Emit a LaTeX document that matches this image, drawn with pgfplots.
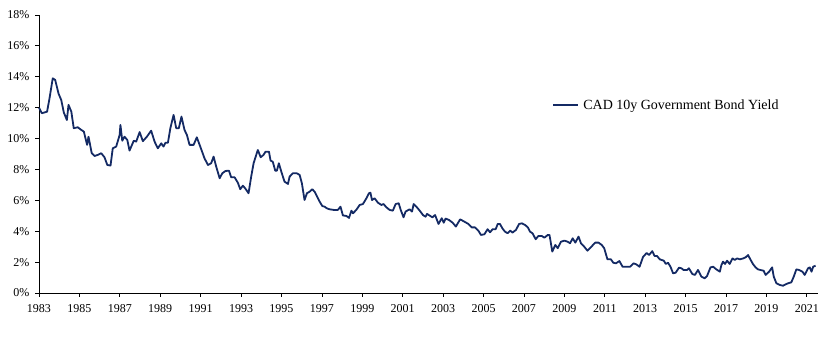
\documentclass[border=0pt]{standalone}
\usepackage{pgfplots}
\pgfplotsset{compat=1.18}
\usepackage{fontspec}
\setmainfont{Liberation Serif}
\definecolor{navy}{RGB}{20,42,100}
\begin{document}
\begin{tikzpicture}[x=1pt,y=1pt]
\useasboundingbox (-39,-62) rectangle (792,293);
\begin{axis}[
  at={(0,0)}, anchor=south west,
  scale only axis, width=779pt, height=278pt,
  xmin=1983, xmax=2021.55, ymin=0, ymax=18,
  axis lines*=left,
  axis line style={black, line width=0.8pt},
  tick style={black, line width=0.8pt},
  tick align=outside, major tick length=4pt,
  xtick={1983,1985,...,2021},
  xticklabels={1983,1985,1987,1989,1991,1993,1995,1997,1999,2001,2003,2005,2007,2009,2011,2013,2015,2017,2019,2021},
  ytick={0,2,...,18},
  yticklabels={0\%,2\%,4\%,6\%,8\%,10\%,12\%,14\%,16\%,18\%},
  tick label style={font=\fontsize{12}{14}\selectfont},
  xticklabel style={yshift=-4pt},
  yticklabel style={xshift=-2pt},
  legend style={draw=none, fill=none, anchor=west,
    at={(513pt,188pt)}, font=\fontsize{14}{16}\selectfont, inner sep=0pt},
  legend image code/.code={\draw[#1] (0pt,0pt) -- (25pt,0pt);},
  clip=false,
]
\addplot[navy, line width=1.8pt, line join=round] coordinates {
(1983.00,12.0)(1983.14,11.64)(1983.40,11.74)(1983.52,12.6)(1983.68,13.9)(1983.80,13.8)(1983.97,12.9)
(1984.10,12.5)(1984.23,11.68)(1984.38,11.2)(1984.46,12.18)(1984.60,11.74)(1984.72,10.67)(1984.92,10.73)
(1985.09,10.56)(1985.22,10.45)(1985.38,9.59)(1985.45,10.12)(1985.61,9.05)(1985.75,8.87)(1985.91,8.94)
(1986.08,9.05)(1986.24,8.79)(1986.38,8.29)(1986.54,8.25)(1986.65,9.37)(1986.82,9.48)(1986.99,10.23)
(1987.03,10.88)(1987.12,9.86)(1987.23,10.12)(1987.37,9.91)(1987.48,9.22)(1987.69,9.86)(1987.81,9.80)(1987.98,10.42)
(1988.14,9.83)(1988.34,10.12)(1988.55,10.51)(1988.72,9.80)(1988.88,9.37)
(1989.05,9.69)(1989.16,9.48)(1989.26,9.73)(1989.38,9.73)(1989.50,10.67)(1989.66,11.53)(1989.79,10.67)(1989.92,10.67)
(1990.05,11.42)(1990.20,10.56)(1990.32,10.23)(1990.45,9.59)(1990.65,9.59)(1990.81,10.08)(1990.98,9.48)
(1991.19,8.72)(1991.36,8.29)(1991.52,8.40)(1991.64,8.83)(1991.77,8.18)(1991.94,7.43)
(1992.07,7.75)(1992.23,7.90)(1992.40,7.92)(1992.51,7.49)(1992.68,7.49)(1992.84,7.14)(1992.96,6.72)
(1993.09,6.95)(1993.20,6.78)(1993.26,6.67)(1993.37,6.46)(1993.50,7.53)(1993.62,8.40)(1993.75,8.94)(1993.83,9.26)(1993.97,8.79)
(1994.11,8.94)(1994.21,9.15)(1994.38,9.15)(1994.46,8.57)(1994.57,8.50)(1994.69,7.92)(1994.77,7.92)(1994.87,8.40)(1994.99,7.86)
(1995.15,7.21)(1995.32,7.06)(1995.40,7.53)(1995.56,7.75)(1995.76,7.75)(1995.90,7.64)
(1996.01,7.10)(1996.14,6.02)(1996.26,6.46)(1996.39,6.56)(1996.52,6.72)(1996.64,6.56)(1996.75,6.28)(1996.89,5.91)
(1997.02,5.63)(1997.13,5.59)(1997.25,5.48)(1997.38,5.42)(1997.58,5.38)(1997.79,5.38)(1997.92,5.59)
(1998.04,5.02)(1998.21,4.99)(1998.34,4.86)(1998.46,5.33)(1998.54,5.16)(1998.70,5.38)(1998.87,5.70)
(1999.03,5.76)(1999.20,6.13)(1999.33,6.46)(1999.40,6.50)(1999.48,6.02)(1999.61,6.13)(1999.77,5.85)(1999.94,5.70)
(2000.05,5.76)(2000.19,5.55)(2000.35,5.38)(2000.51,5.33)(2000.65,5.76)(2000.80,5.81)(2000.90,5.38)
(2001.04,4.90)(2001.14,5.27)(2001.34,5.42)(2001.46,5.27)(2001.54,5.76)(2001.70,5.55)(2001.84,5.33)
(2002.00,5.05)(2002.13,4.94)(2002.20,5.12)(2002.47,4.90)(2002.60,5.05)(2002.77,4.47)(2002.93,4.84)
(2003.03,4.55)(2003.12,4.82)(2003.30,4.72)(2003.47,4.55)(2003.63,4.30)(2003.84,4.77)
(2004.05,4.62)(2004.25,4.47)(2004.41,4.25)(2004.57,4.25)(2004.74,4.04)(2004.87,3.76)
(2005.04,3.80)(2005.20,4.13)(2005.32,3.93)(2005.45,4.13)(2005.60,4.13)(2005.70,4.47)(2005.81,4.47)(2005.93,4.19)
(2006.06,3.97)(2006.19,3.87)(2006.32,4.04)(2006.43,3.91)(2006.60,4.08)(2006.76,4.47)(2006.90,4.51)
(2007.06,4.40)(2007.19,4.25)(2007.30,3.97)(2007.42,3.87)(2007.58,3.48)(2007.71,3.69)(2007.88,3.69)
(2008.01,3.58)(2008.18,3.76)(2008.26,3.76)(2008.30,3.48)(2008.40,2.68)(2008.55,3.11)(2008.67,2.90)(2008.83,3.32)
(2009.00,3.39)(2009.16,3.32)(2009.28,3.22)(2009.41,3.54)(2009.54,3.26)(2009.70,3.65)(2009.82,3.22)(2009.98,3.00)
(2010.14,2.74)(2010.31,2.96)(2010.52,3.26)(2010.69,3.26)(2010.85,3.11)(2010.97,2.90)
(2011.13,2.18)(2011.30,2.18)(2011.42,1.96)(2011.55,1.92)(2011.72,2.07)(2011.88,1.70)
(2012.05,1.70)(2012.25,1.70)(2012.42,1.92)(2012.55,1.86)(2012.72,1.70)(2012.89,2.33)
(2013.07,2.59)(2013.19,2.46)(2013.35,2.71)(2013.46,2.40)(2013.58,2.40)(2013.72,2.18)(2013.92,2.09)
(2014.02,1.88)(2014.13,1.96)(2014.25,1.70)(2014.38,1.27)(2014.51,1.32)(2014.67,1.64)(2014.79,1.60)(2014.90,1.49)
(2015.07,1.49)(2015.16,1.60)(2015.33,1.23)(2015.46,1.17)(2015.61,1.49)(2015.78,1.06)(2015.94,0.95)
(2016.06,1.10)(2016.23,1.66)(2016.36,1.70)(2016.52,1.53)(2016.69,1.38)(2016.77,1.81)(2016.85,2.03)(2016.95,1.88)
(2017.05,2.09)(2017.18,1.88)(2017.32,2.24)(2017.43,2.14)(2017.55,2.24)(2017.68,2.18)(2017.85,2.24)(2017.97,2.31)
(2018.09,2.46)(2018.20,2.18)(2018.33,1.88)(2018.46,1.66)(2018.58,1.53)(2018.70,1.49)(2018.86,1.44)(2018.96,1.17)
(2019.13,1.38)(2019.28,1.66)(2019.36,1.06)(2019.49,0.63)(2019.66,0.52)(2019.82,0.47)(2019.95,0.56)
(2020.07,0.63)(2020.23,0.69)(2020.35,1.06)(2020.48,1.53)(2020.61,1.49)(2020.78,1.38)(2020.89,1.17)
(2021.06,1.60)(2021.14,1.66)(2021.23,1.38)(2021.31,1.70)(2021.43,1.77)
};
\addlegendentry{\,CAD 10y Government Bond Yield}
\end{axis}
\end{tikzpicture}
\end{document}
